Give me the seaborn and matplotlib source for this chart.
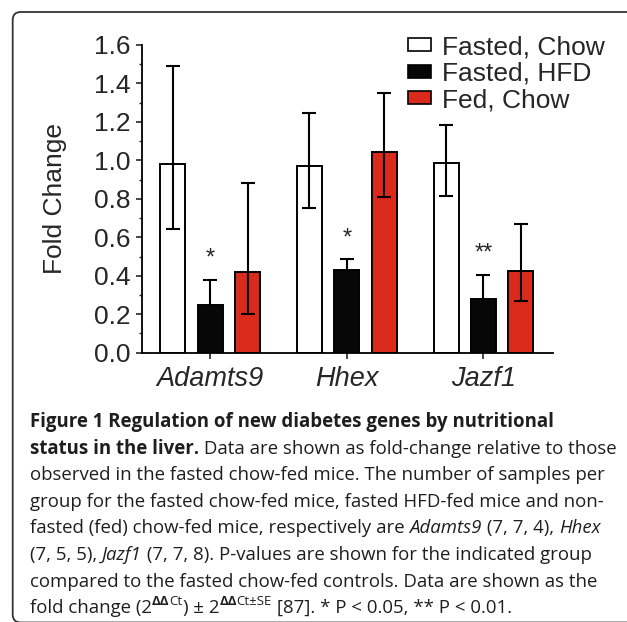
import matplotlib
matplotlib.use("Agg")
import matplotlib.pyplot as plt
import seaborn as sns
import pandas as pd
from matplotlib.patches import FancyBboxPatch
from matplotlib.ticker import MultipleLocator

# values
genes = ["Adamts9", "Hhex", "Jazf1"]
groups = ["Fasted, Chow", "Fasted, HFD", "Fed, Chow"]
colors = ["#FFFFFF", "#070707", "#DA2A1C"]

fasted_chow = [0.98, 0.97, 0.985]
fasted_hfd = [0.25, 0.43, 0.28]
fed_chow = [0.42, 1.045, 0.425]

# error bar ends (lower, upper)
fasted_chow_lo = [0.645, 0.75, 0.815]
fasted_chow_hi = [1.49, 1.245, 1.185]
fasted_hfd_lo = [0.16, 0.38, 0.19]
fasted_hfd_hi = [0.38, 0.485, 0.405]
fed_chow_lo = [0.20, 0.81, 0.268]
fed_chow_hi = [0.88, 1.35, 0.67]

stars = ["*", "*", "**"]

caption_lines = [
    [("Figure 1 Regulation of new diabetes genes by nutritional", "bold")],
    [("status in the liver.", "bold"), (" Data are shown as fold-change relative to those", "normal")],
    [("observed in the fasted chow-fed mice. The number of samples per", "normal")],
    [("group for the fasted chow-fed mice, fasted HFD-fed mice and non-", "normal")],
    [("fasted (fed) chow-fed mice, respectively are ", "normal"), ("Adamts9", "italic"),
     (" (7, 7, 4), ", "normal"), ("Hhex", "italic")],
    [("(7, 5, 5), ", "normal"), ("Jazf1", "italic"),
     (" (7, 7, 8). P-values are shown for the indicated group", "normal")],
    [("compared to the fasted chow-fed controls. Data are shown as the", "normal")],
    [("fold change (2", "normal"), ("ΔΔ", "supbold"), ("Ct", "sup"), (") ± 2", "normal"),
     ("ΔΔ", "supbold"), ("Ct±SE", "sup"), (" [87]. * P < 0.05, ** P < 0.01.", "normal")],
]

rows = []
for i, gene in enumerate(genes):
    for group, vals in zip(groups, [fasted_chow, fasted_hfd, fed_chow]):
        rows.append({"Gene": gene, "Group": group, "Fold Change": vals[i]})
df = pd.DataFrame(rows)

sns.set_style("ticks")
plt.rcParams['font.family'] = ['Liberation Sans', 'DejaVu Sans']
fs = 19

W, H = 627, 622
fig = plt.figure(figsize=(W / 100, H / 100), dpi=100)
ax = fig.add_axes([142 / W, 1 - 352.7 / H, 411 / W, 307.7 / H])

sns.barplot(data=df, x="Gene", y="Fold Change", hue="Group", order=genes,
            hue_order=groups, palette=colors, saturation=1, width=0.82, gap=0.33,
            edgecolor="black", linewidth=1.4, errorbar=None, ax=ax)

lows = [fasted_chow_lo, fasted_hfd_lo, fed_chow_lo]
highs = [fasted_chow_hi, fasted_hfd_hi, fed_chow_hi]
values = [fasted_chow, fasted_hfd, fed_chow]
for k, (cont, vals, lo, hi) in enumerate(zip(ax.containers, values, lows, highs)):
    xs = [b.get_x() + b.get_width() / 2 for b in cont]
    yerr = [[v - l for v, l in zip(vals, lo)], [h - v for v, h in zip(vals, hi)]]
    # the black bars hide the lower half of their error bars
    z = 0.5 if k == 1 else 5
    ax.errorbar(xs, vals, yerr=yerr, fmt="none", ecolor="black", elinewidth=1.5,
                capsize=4.8, capthick=1.5, zorder=z)

# significance marks over the HFD bars
hfd_bars = ax.containers[1]
for b, s, h in zip(hfd_bars, stars, fasted_hfd_hi):
    ax.text(b.get_x() + b.get_width() / 2, h + 0.11, s, ha="center", va="center",
            fontsize=17)

ax.set_xlim(-0.5, 2.51)
ax.set_ylim(0, 1.6)
ax.yaxis.set_major_locator(MultipleLocator(0.2))
ax.yaxis.set_minor_locator(MultipleLocator(0.1))
ax.tick_params(axis="y", which="major", direction="out", length=4.3, width=1.2,
               labelsize=fs, pad=4)
ax.tick_params(axis="y", which="minor", direction="out", length=2.3, width=1.0)
ax.tick_params(axis="x", direction="out", length=4.3, width=1.2, labelsize=19.5, pad=5)
for lab in ax.get_xticklabels():
    lab.set_fontstyle("italic")
ax.set_xlabel("")
ax.set_ylabel("Fold Change", fontsize=fs, labelpad=19)
sns.despine(ax=ax)
for sp in ["left", "bottom"]:
    ax.spines[sp].set_linewidth(1.3)
    ax.spines[sp].set_color("black")

leg = ax.legend(title=None, frameon=False, loc="upper left",
                bbox_to_anchor=(408 / W, 1 - 35 / H), bbox_transform=fig.transFigure,
                fontsize=fs, handlelength=0.87, handleheight=0.38, handletextpad=0.42,
                labelspacing=0.095, borderpad=0, borderaxespad=0)
for hnd in leg.legend_handles:
    hnd.set_edgecolor("black")
    hnd.set_linewidth(1.2)

# frame around the figure panel
box = FancyBboxPatch((0.127, -0.005), 7.0, 6.10 + 0.005,
                     boxstyle="round,pad=0,rounding_size=0.08",
                     transform=fig.dpi_scale_trans, facecolor="none",
                     edgecolor="#333333", linewidth=1.3)
fig.add_artist(box)

# caption
renderer = fig.canvas.get_renderer()
cap_font = ["Open Sans", "DejaVu Sans"]
cap_size = 13.4
cap_color = "#1E1E1E"


def text_width(txt, **kw):
    t1 = fig.text(0, 0, txt + "|", **kw)
    t2 = fig.text(0, 0, "|", **kw)
    w = t1.get_window_extent(renderer).width - t2.get_window_extent(renderer).width
    t1.remove()
    t2.remove()
    return w


styles = {
    "normal": dict(fontsize=cap_size, fontweight="normal", fontstyle="normal", rise=0),
    "bold": dict(fontsize=cap_size, fontweight="bold", fontstyle="normal", rise=0),
    "italic": dict(fontsize=cap_size, fontweight="normal", fontstyle="italic", rise=0),
    "sup": dict(fontsize=9.5, fontweight="normal", fontstyle="normal", rise=8),
    "supbold": dict(fontsize=9.5, fontweight="bold", fontstyle="normal", rise=8),
}

base0, step, left = 427, 26.6, 30
for i, line in enumerate(caption_lines):
    x = left
    base = base0 + i * step
    for txt, st in line:
        kw = dict(styles[st])
        rise = kw.pop("rise")
        kw["family"] = cap_font
        kw["color"] = cap_color
        fig.text(x / W, 1 - (base - rise) / H, txt, ha="left", va="baseline", **kw)
        x += text_width(txt, **kw)

fig.savefig("out.png", dpi=100)
